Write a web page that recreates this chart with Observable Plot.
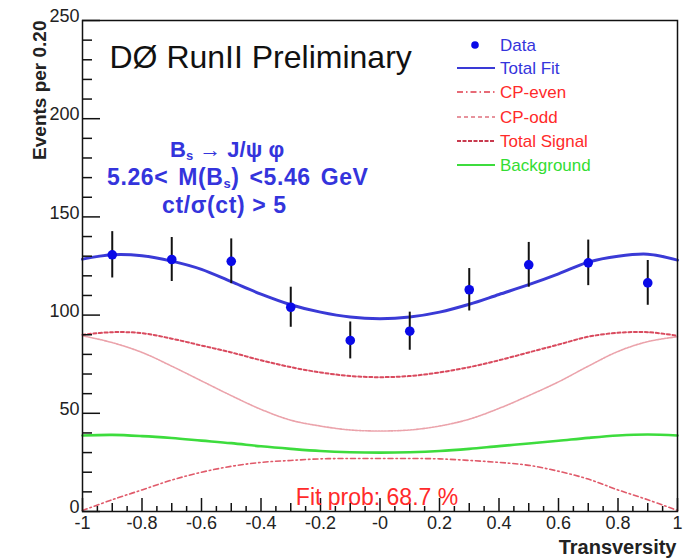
<!DOCTYPE html>
<html><head><meta charset="utf-8">
<script src="https://cdn.jsdelivr.net/npm/d3@7"></script>
<script src="https://cdn.jsdelivr.net/npm/@observablehq/plot@0.6"></script>
<style>
html,body{margin:0;padding:0;background:#fff;}
#chart{width:689px;height:560px;}
</style></head><body><div id="chart"></div>
<script>
// ---- data ----
const binCenters = [-0.9,-0.7,-0.5,-0.3,-0.1,0.1,0.3,0.5,0.7,0.9];
const events = [130.7,128.3,127.4,104.0,87.1,91.8,112.9,125.6,126.6,116.4];
const eventErrors = [11.8,11.2,11.4,10.2,9.4,9.7,10.8,11.4,11.6,11.4];

const curveX = [-1,-0.9,-0.8,-0.7,-0.6,-0.5,-0.4,-0.3,-0.2,-0.1,0,0.1,0.2,0.3,0.4,0.5,0.6,0.7,0.8,0.9,1];
const totalFit = [128.5,130.7,130.2,127.5,123.3,117,110.7,105.3,101.5,99,98.2,99,101.5,105.5,110.5,115.5,121,127,130,131,128];
const totalSignal = [90,91.3,90.8,88,84.5,81,77,73.5,70.8,69,68.4,69,70.8,73.5,77,81,85,89,91,91.3,89.5];
const cpEven = [89.5,86,81,74,66.5,59,52,46.5,43.5,41.5,41,41.5,43.5,47,52.5,59,66,74,81.5,86.5,89];
const cpOdd = [0.5,6,11,16,20,23,25,26,26.8,27,27,27,26.8,26,25,23.5,20.5,16.5,11,6,0.5];
const background = [38.7,39,38.4,37.4,36.1,34.8,33.2,31.9,30.8,30.2,30,30.2,30.8,31.9,33.3,34.6,36,37.5,38.7,39.2,38.7];

const yTickValues = [0,50,100,150,200,250];
const yTickLabels = ["0","50","100","150","200","250"];
const xTickValues = [-1,-0.8,-0.6,-0.4,-0.2,0,0.2,0.4,0.6,0.8,1];
const xTickLabels = ["-1","-0.8","-0.6","-0.4","-0.2","-0","0.2","0.4","0.6","0.8","1"];

const legendLabels = ["Data","Total Fit","CP-even","CP-odd","Total Signal","Background"];
const titleText = "DØ RunII Preliminary";
const yAxisTitle = "Events per 0.20";
const xAxisTitle = "Transversity";
const fitProbText = "Fit prob: 68.7 %";

// ---- layout / styles ----
const W = 689, H = 560, mL = 82, mR = 12, mT = 20, mB = 49;
const innerW = W - mL - mR, innerH = H - mT - mB;
const FONT = "'Liberation Sans', Arial, Helvetica, sans-serif";
const BLUE_TXT = "#3434dc", RED_TXT = "#ff2a2a", GREEN_TXT = "#33dd33";
// plot curve styles (as drawn in the reference)
const curveStyles = {
  totalFit: {stroke: "#3a3ad6", strokeWidth: 3, dash: null},
  cpEven: {stroke: "#eba3ab", strokeWidth: 1.6, dash: "2,1.2"},
  cpOdd: {stroke: "#e05a6a", strokeWidth: 1.6, dash: "5,3,1.5,3"},
  totalSignal: {stroke: "#d94a5e", strokeWidth: 2, dash: "3,2.5"},
  background: {stroke: "#3ddc3d", strokeWidth: 2.6, dash: null}
};
// legend sample styles (as drawn in the reference legend)
const legendStyles = [
  null,
  {stroke: "#3a3ad6", strokeWidth: 2.2, dash: null},
  {stroke: "#e03a4a", strokeWidth: 1.6, dash: "6,3,1.5,3"},
  {stroke: "#e0707e", strokeWidth: 1.6, dash: "4,3"},
  {stroke: "#c83a4e", strokeWidth: 1.8, dash: "4,1.5"},
  {stroke: "#3ddc3d", strokeWidth: 2, dash: null}
];

const fitData = curveX.map((x, i) => ({x, totalFit: totalFit[i], totalSignal: totalSignal[i], cpEven: cpEven[i], cpOdd: cpOdd[i], background: background[i]}));
const pts = binCenters.map((x, i) => ({x, y: events[i], lo: events[i] - eventErrors[i], hi: events[i] + eventErrors[i]}));

const yMinor = d3.range(0, 251, 10).filter(v => v % 50 !== 0);
const xSmall = d3.range(-20, 21).map(k => k * 0.05).filter((v, i) => i % 2 === 1);
const xMid = d3.range(-9, 10, 2).map(k => k / 10);

function annotationMark() {
  const g = d3.create("svg:g").attr("font-family", FONT).attr("font-weight", "bold").attr("font-size", 23)
    .attr("fill", BLUE_TXT).attr("text-anchor", "start");
  const t1 = g.append("text").attr("x", 170).attr("y", 157).attr("font-size", 22);
  t1.append("tspan").text("B");
  t1.append("tspan").attr("font-size", 13).attr("dy", 3).text("s");
  t1.append("tspan").attr("dy", -3).text(" \u2192 J/\u03c8 \u03c6");
  const t2 = g.append("text").attr("x", 107).attr("y", 185).attr("letter-spacing", 0.6).attr("word-spacing", 3);
  t2.append("tspan").text("5.26< M(B");
  t2.append("tspan").attr("font-size", 13).attr("dy", 3).text("s");
  t2.append("tspan").attr("dy", -3).text(") <5.46 GeV");
  g.append("text").attr("x", 162).attr("y", 213).attr("letter-spacing", 0.6).text("ct/\u03c3(ct) > 5");
  return g.node();
}

function legendMark() {
  const g = d3.create("svg:g").attr("font-family", FONT).attr("font-size", 17).attr("text-anchor", "start");
  const rowsY = [45, 68, 92, 117, 141, 165];
  const txtColor = [BLUE_TXT, BLUE_TXT, RED_TXT, RED_TXT, RED_TXT, GREEN_TXT];
  legendLabels.forEach((lab, i) => {
    const y = rowsY[i];
    const s = legendStyles[i];
    if (s === null) {
      g.append("circle").attr("cx", 475).attr("cy", y).attr("r", 3.8).attr("fill", "#0a0ae8");
    } else {
      g.append("line").attr("x1", 457).attr("x2", 495).attr("y1", y).attr("y2", y)
        .attr("stroke", s.stroke).attr("stroke-width", s.strokeWidth)
        .attr("stroke-dasharray", s.dash);
    }
    g.append("text").attr("x", 500).attr("y", y + 6).attr("fill", txtColor[i]).text(lab);
  });
  return g.node();
}

const lineMark = key => Plot.line(fitData, {x: "x", y: key, stroke: curveStyles[key].stroke, strokeWidth: curveStyles[key].strokeWidth, strokeDasharray: curveStyles[key].dash, curve: "catmull-rom"});

const chart = Plot.plot({
  width: W, height: H,
  marginLeft: mL, marginRight: mR, marginTop: mT, marginBottom: mB,
  x: {domain: [-1, 1], axis: null},
  y: {domain: [0, 250], axis: null},
  style: {fontFamily: FONT, background: "white", overflow: "visible"},
  marks: [
    lineMark("cpOdd"),
    lineMark("cpEven"),
    lineMark("totalSignal"),
    lineMark("background"),
    lineMark("totalFit"),
    Plot.ruleX(pts, {x: "x", y1: "lo", y2: "hi", stroke: "#111", strokeWidth: 2}),
    Plot.dot(pts, {x: "x", y: "y", r: 4.8, fill: "#0a0ae8"}),
    // axis ticks (drawn inward, ROOT style)
    Plot.tickY(yMinor, {y: d => d, insetRight: innerW - 10, stroke: "#111", strokeWidth: 1.5}),
    Plot.tickY(yTickValues, {y: d => d, insetRight: innerW - 18, stroke: "#111", strokeWidth: 1.5}),
    Plot.tickX(xSmall, {x: d => d, insetTop: innerH - 5, stroke: "#111", strokeWidth: 1.5}),
    Plot.tickX(xMid, {x: d => d, insetTop: innerH - 8, stroke: "#111", strokeWidth: 1.5}),
    Plot.tickX(xTickValues, {x: d => d, insetTop: innerH - 13, stroke: "#111", strokeWidth: 1.5}),
    Plot.frame({stroke: "#111", strokeWidth: 1.5}),
    // tick labels
    Plot.text(yTickValues, {y: d => d, text: (d, i) => yTickLabels[i], frameAnchor: "left", textAnchor: "end", dx: -3, dy: -4, fontSize: 18, fill: "#222"}),
    Plot.text(xTickValues, {x: d => d, text: (d, i) => xTickLabels[i], frameAnchor: "bottom", lineAnchor: "top", dy: 5, fontSize: 18, fill: "#222"}),
    // axis titles
    Plot.text([yAxisTitle], {text: d => d, frameAnchor: "top-left", rotate: -90, textAnchor: "end", lineAnchor: "bottom", dx: -37, dy: 0, fontSize: 19, fontWeight: "bold", fill: "#222"}),
    Plot.text([xAxisTitle], {text: d => d, frameAnchor: "bottom-right", textAnchor: "end", lineAnchor: "bottom", dx: -1, dy: 42, fontSize: 20, fontWeight: "bold", fill: "#222"}),
    // title & annotations
    Plot.text([titleText], {text: d => d, frameAnchor: "top-left", textAnchor: "start", lineAnchor: "bottom", dx: 27, dy: 47, fontSize: 32, fill: "#111"}),
    Plot.text([fitProbText], {text: d => d, frameAnchor: "bottom", lineAnchor: "bottom", dx: -3, dy: -7, fontSize: 23, fill: RED_TXT}),
    annotationMark,
    legendMark
  ]
});
document.getElementById("chart").appendChild(chart);
</script>
</body></html>
